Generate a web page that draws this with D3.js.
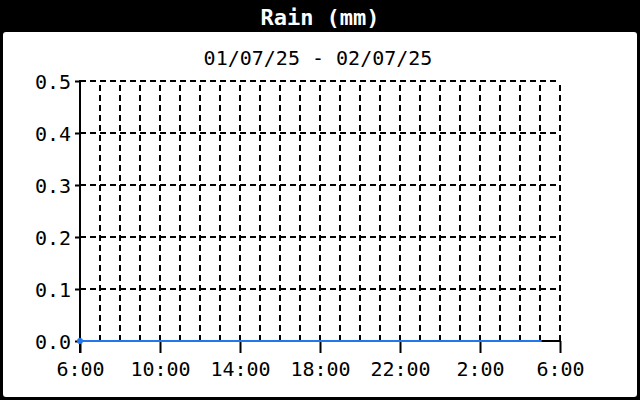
<!DOCTYPE html>
<html><head><meta charset="utf-8">
<script src="https://cdn.jsdelivr.net/npm/d3@7"></script>
<style>
html,body{margin:0;padding:0;background:#000;}
svg{display:block;}
text{font-family:"DejaVu Sans Mono",monospace;}
</style></head>
<body><svg id="c" width="640" height="400"></svg>
<script>
const title = "Rain (mm)";
const subtitle = "01/07/25 - 02/07/25";
const readingTimes = ["2025-07-01T06:00","2025-07-01T07:00","2025-07-01T08:00","2025-07-01T09:00","2025-07-01T10:00","2025-07-01T11:00","2025-07-01T12:00","2025-07-01T13:00","2025-07-01T14:00","2025-07-01T15:00","2025-07-01T16:00","2025-07-01T17:00","2025-07-01T18:00","2025-07-01T19:00","2025-07-01T20:00","2025-07-01T21:00","2025-07-01T22:00","2025-07-01T23:00","2025-07-02T00:00","2025-07-02T01:00","2025-07-02T02:00","2025-07-02T03:00","2025-07-02T04:00","2025-07-02T05:00","2025-07-02T05:05"];
const rainValues = [0,0,0,0,0,0,0,0,0,0,0,0,0,0,0,0,0,0,0,0,0,0,0,0,0];
const yTicks = [0, 0.1, 0.2, 0.3, 0.4, 0.5];
const xTickTimes = ["2025-07-01T06:00","2025-07-01T10:00","2025-07-01T14:00","2025-07-01T18:00","2025-07-01T22:00","2025-07-02T02:00","2025-07-02T06:00"];
const xLabels = ["6:00","10:00","14:00","18:00","22:00","2:00","6:00"];
const xStart = "2025-07-01T06:00", xEnd = "2025-07-02T06:00";

const parse = d3.timeParse("%Y-%m-%dT%H:%M");
const data = readingTimes.map((t,i)=>({t:parse(t), v:rainValues[i]}));
const svg = d3.select("#c");

svg.append("rect").attr("x",3).attr("y",32).attr("width",634).attr("height",365).attr("rx",3).attr("fill","#fff");
svg.append("text").attr("x",320).attr("y",25).attr("text-anchor","middle").attr("fill","#fff")
  .attr("font-size",22).attr("font-weight","bold").text(title);
svg.append("text").attr("x",318).attr("y",65).attr("text-anchor","middle").attr("fill","#000")
  .attr("font-size",20).text(subtitle);

const x = d3.scaleTime().domain([parse(xStart), parse(xEnd)]).range([80,560]);
const y = d3.scaleLinear().domain([0,0.5]).range([341,81]);

const hourTicks = d3.timeHour.range(d3.timeHour.offset(parse(xStart),1), d3.timeHour.offset(parse(xEnd),1));
const g = svg.append("g");
g.selectAll(".vg").data(hourTicks).join("line")
  .attr("x1",d=>x(d)).attr("x2",d=>x(d)).attr("y1",y(0)).attr("y2",y(0.5))
  .attr("stroke","#000").attr("stroke-width",2).attr("stroke-dasharray","6,4");
g.selectAll(".hg").data(yTicks.slice(1)).join("line")
  .attr("x1",x(parse(xStart))).attr("x2",x(parse(xEnd))).attr("y1",d=>y(d)).attr("y2",d=>y(d))
  .attr("stroke","#000").attr("stroke-width",2).attr("stroke-dasharray","6,4");

const yAxis = d3.axisLeft(y).tickValues(yTicks).tickFormat(d3.format(".1f")).tickSize(5).tickPadding(4);
const ya = svg.append("g").attr("transform","translate(80,0)").call(yAxis);
ya.select(".domain").remove();
ya.selectAll("line").attr("stroke","#000").attr("stroke-width",2);
ya.selectAll("text").attr("font-size",20).attr("fill","#000").attr("font-family","DejaVu Sans Mono").attr("dy","0.35em");
svg.append("line").attr("x1",80).attr("x2",80).attr("y1",80).attr("y2",353).attr("stroke","#000").attr("stroke-width",2);

const majorTicks = xTickTimes.map(parse);
const xAxis = d3.axisBottom(x).tickValues(majorTicks).tickFormat((d,i)=>xLabels[i]).tickSize(12).tickPadding(9);
const xa = svg.append("g").attr("transform","translate(0,341)").call(xAxis);
xa.select(".domain").remove();
xa.selectAll("line").attr("stroke","#000").attr("stroke-width",2);
xa.selectAll("text").attr("font-size",20).attr("fill","#000").attr("font-family","DejaVu Sans Mono");
svg.append("line").attr("x1",80).attr("x2",561).attr("y1",341).attr("y2",341).attr("stroke","#000").attr("stroke-width",2);

const line = d3.line().x(d=>x(d.t)).y(d=>y(d.v));
svg.append("path").datum(data).attr("d",line).attr("fill","none").attr("stroke","#2277ee").attr("stroke-width",2);
svg.append("circle").attr("cx",x(data[0].t)).attr("cy",y(data[0].v)).attr("r",3).attr("fill","#2277ee");
</script></body></html>
